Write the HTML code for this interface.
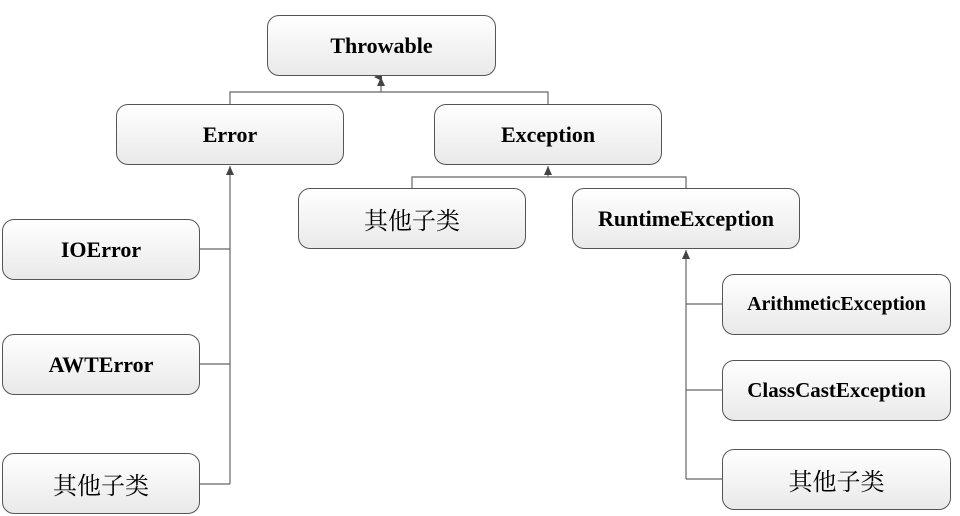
<!DOCTYPE html>
<html><head><meta charset="utf-8"><style>
body{margin:0;width:960px;height:516px;background:#fff;overflow:hidden;position:relative}
.b{position:absolute;box-sizing:border-box;border:1.3px solid #555;border-radius:12px;background:linear-gradient(#fff,#e9e9e9);display:flex;align-items:center;justify-content:center;font-family:"Liberation Serif","Noto Serif CJK SC",serif;font-weight:bold;font-size:22px;color:#000}
.c{font-weight:normal;font-size:24px}
svg{position:absolute;left:0;top:0}
</style></head><body>
<svg width="960" height="516">
<defs><marker id="a" markerWidth="8" markerHeight="8" refX="4" refY="7" orient="auto-start-reverse" markerUnits="userSpaceOnUse"><path d="M0,8 L4,0 L8,8 z" fill="#444"/></marker></defs>
<g stroke="#666" stroke-width="1.2" fill="none">
<path d="M230,104 V92 H548 V104"/>
<path d="M381,92 V77" marker-end="url(#a)" transform="rotate(0)"/>
<path d="M412,188 V177 H686 V188"/>
<path d="M548,177 V166"/>
<path d="M230,484 V166"/>
<path d="M200,249 H230 M200,364 H230 M200,484 H230"/>
<path d="M686,479 V250"/>
<path d="M722,304 H686 M722,390 H686 M722,479 H686"/>
</g>
<g fill="#444">
<path d="M377,86 L381,77 L385,86 z"/>
<path d="M544,175 L548,166 L552,175 z"/>
<path d="M226,175 L230,166 L234,175 z"/>
<path d="M682,259 L686,250 L690,259 z"/>
</g>
</svg>
<div class="b" style="left:267px;top:15px;width:229px;height:61px">Throwable</div>
<div class="b" style="left:116px;top:104px;width:228px;height:61px">Error</div>
<div class="b" style="left:434px;top:104px;width:228px;height:61px">Exception</div>
<div class="b c" style="left:298px;top:188px;width:228px;height:61px">其他子类</div>
<div class="b" style="left:572px;top:188px;width:228px;height:61px">RuntimeException</div>
<div class="b" style="left:2px;top:219px;width:198px;height:61px">IOError</div>
<div class="b" style="left:2px;top:334px;width:198px;height:61px">AWTError</div>
<div class="b c" style="left:2px;top:453px;width:198px;height:61px">其他子类</div>
<div class="b" style="left:722px;top:274px;width:229px;height:61px;font-size:20px">ArithmeticException</div>
<div class="b" style="left:722px;top:360px;width:229px;height:61px;font-size:21px">ClassCastException</div>
<div class="b c" style="left:722px;top:449px;width:229px;height:61px">其他子类</div>
</body></html>
